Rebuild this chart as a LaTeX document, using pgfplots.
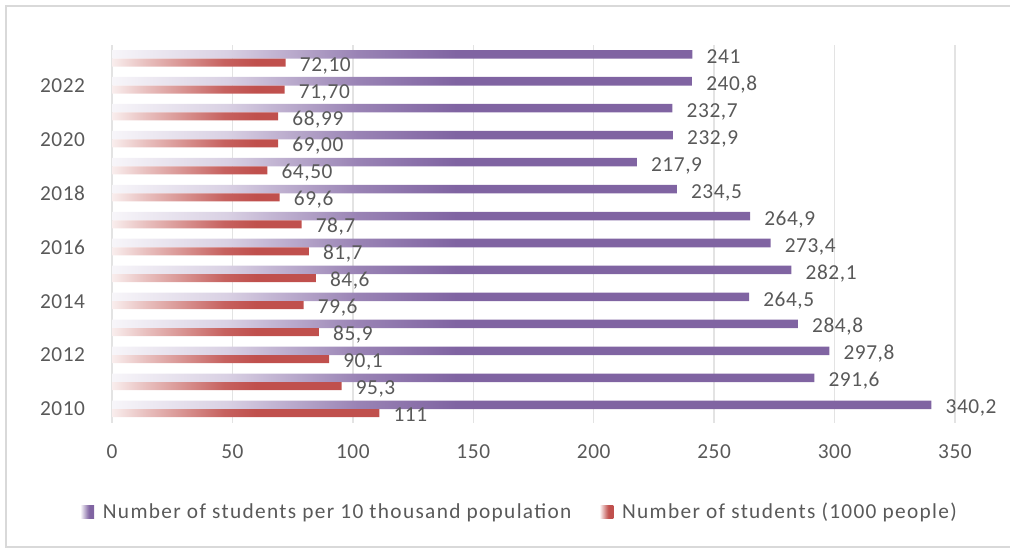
\documentclass[border=0pt]{standalone}
\usepackage{fontspec}
\setmainfont{Carlito}
\newfontfamily\legfont[LetterSpace=6.2]{Carlito}
\newfontfamily\numfont[LetterSpace=2.7]{Carlito}
\usepackage{pgfplots}
\pgfplotsset{compat=1.18}
\usepackage{pgfplotstable}

\definecolor{txt}{HTML}{595959}
\definecolor{grd}{HTML}{E3E3E3}
\definecolor{frm}{HTML}{D9D9D9}
\definecolor{purp}{HTML}{8064A2}
\definecolor{redb}{HTML}{C0504D}

% bar fills: pale at the base, full colour along the rest of the bar
\pgfdeclarehorizontalshading{purpbar}{100bp}{color(0bp)=(purp!6); color(25bp)=(purp!6); color(32bp)=(purp!30); color(40bp)=(purp!80); color(46bp)=(purp); color(100bp)=(purp)}
\pgfdeclarehorizontalshading{redbar}{100bp}{color(0bp)=(redb!10); color(25bp)=(redb!10); color(31bp)=(redb!35); color(46bp)=(redb!90); color(52bp)=(redb); color(100bp)=(redb)}
\pgfdeclarehorizontalshading{purpkey}{100bp}{color(0bp)=(white); color(25bp)=(white); color(50bp)=(purp!80); color(58bp)=(purp); color(100bp)=(purp)}
\pgfdeclarehorizontalshading{redkey}{100bp}{color(0bp)=(white); color(25bp)=(white); color(50bp)=(redb!80); color(58bp)=(redb); color(100bp)=(redb)}

% students per 10 thousand population and students (1000 people)
\pgfplotstableread{
idx year per perl stud studl
0  2010 340.2 340,2 111   111
1  2011 291.6 291,6 95.3  95,3
2  2012 297.8 297,8 90.1  90,1
3  2013 284.8 284,8 85.9  85,9
4  2014 264.5 264,5 79.6  79,6
5  2015 282.1 282,1 84.6  84,6
6  2016 273.4 273,4 81.7  81,7
7  2017 264.9 264,9 78.7  78,7
8  2018 234.5 234,5 69.6  69,6
9  2019 217.9 217,9 64.50 64,50
10 2020 232.9 232,9 69.00 69,00
11 2021 232.7 232,7 68.99 68,99
12 2022 240.8 240,8 71.70 71,70
13 2023 241   241   72.10 72,10
}\data

\newcommand\lblfont{\numfont\fontsize{16}{19}\selectfont}
\newcommand\keyfont{\legfont\fontsize{16}{19}\selectfont}

\begin{document}
\begin{tikzpicture}
\useasboundingbox (0,0) rectangle (757.5pt,412.5pt);
\draw[frm, line width=1.1pt] (4.5pt,2.25pt) rectangle (770pt,408pt);
\begin{axis}[
  at={(84pt,95.6pt)}, anchor=south west,
  scale only axis,
  width=632.25pt, height=283.1pt,
  xmin=0, xmax=350, ymin=-0.5, ymax=13.5,
  xtick={0,50,...,350},
  ytick={0,2,...,12},
  yticklabels={2010,2012,2014,2016,2018,2020,2022},
  xmajorgrids,
  grid style={grd, line width=1pt},
  axis line style={draw=none},
  tick style={draw=none},
  /pgf/number format/assume math mode=true,
  ticklabel style={font=\lblfont, text=txt},
  xticklabel style={anchor=center, inner sep=0pt, yshift=-22pt},
  yticklabel style={anchor=east, inner sep=0pt, xshift=-20pt},
  legend columns=2,
  legend style={draw=none, fill=none, font=\keyfont, text=txt,
    inner sep=0pt, at={(-0.038,-0.2371)}, anchor=west,
    cells={anchor=west},
    /tikz/every odd column/.append style={column sep=4.5pt},
    /tikz/every even column/.append style={column sep=19pt}},
  nodes near coords,
  point meta=explicit symbolic,
  nodes near coords style={font=\lblfont, text=txt, anchor=base west,
    inner sep=0pt, xshift=10.5pt},
]
\addplot[xbar, bar width=6.4pt, bar shift=3.2pt, draw=none, shade, shading=purpbar,
  nodes near coords style={yshift=-3.6pt},
  legend image code/.code={\shade[shading=purpkey] (0pt,-4.9pt) rectangle (10.5pt,4.9pt);}]
  table[x=per, y=idx, meta=perl] {\data};
\addlegendentry{Number of students per 10 thousand population}
\addplot[xbar, bar width=6pt, bar shift=-3pt, draw=none, shade, shading=redbar,
  nodes near coords style={yshift=-9.4pt},
  legend image code/.code={\shade[shading=redkey] (0pt,-4.9pt) rectangle (10.5pt,4.9pt);}]
  table[x=stud, y=idx, meta=studl] {\data};
\addlegendentry{Number of students (1000 people)}
\end{axis}
\end{tikzpicture}
\end{document}
